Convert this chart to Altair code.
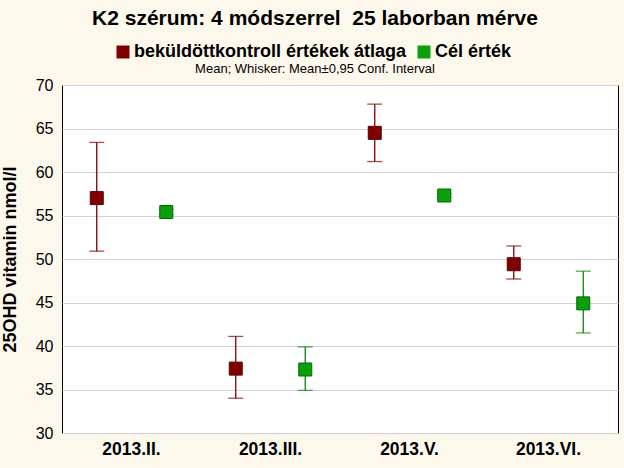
import altair as alt
import pandas as pd

categories = ["2013.II.", "2013.III.", "2013.V.", "2013.VI."]
series_names = ["beküldöttkontroll értékek átlaga", "Cél érték"]

red_mean = [57.0, 37.4, 64.5, 49.4]
red_low = [50.9, 34.0, 61.2, 47.7]
red_high = [63.4, 41.1, 67.8, 51.5]

green_mean = [55.4, 37.3, 57.3, 44.9]
green_low = [55.1, 34.9, 57.1, 41.5]
green_high = [55.7, 39.9, 57.5, 48.6]

y_ticks = [30, 35, 40, 45, 50, 55, 60, 65, 70]

rows = []
for i, c in enumerate(categories):
    rows.append({"cat": c, "series": series_names[0], "mean": red_mean[i], "low": red_low[i], "high": red_high[i]})
    rows.append({"cat": c, "series": series_names[1], "mean": green_mean[i], "low": green_low[i], "high": green_high[i]})
df = pd.DataFrame(rows)

FONT = "Liberation Sans"
fill_colors = ["#800000", "#0AA00A"]
stroke_colors = ["#5A0000", "#006A00"]
line_colors = ["#800000", "#0A840A"]

x_enc = alt.X("cat:N", sort=categories,
              scale=alt.Scale(paddingInner=0, paddingOuter=0),
              axis=alt.Axis(labelAngle=0, labelFontSize=17.5, labelFontWeight="bold",
                            labelColor="black", labelFont=FONT, ticks=False, domain=False,
                            labelPadding=7, title=None, grid=False))
xoff_enc = alt.XOffset("series:N", sort=series_names,
                       scale=alt.Scale(domain=series_names, paddingInner=0, paddingOuter=0))
y_scale = alt.Scale(domain=[30, 70], nice=False, zero=False)
y_axis = alt.Axis(values=y_ticks, grid=True, gridColor="#D2D2D2", domain=False, ticks=False,
                  labelFontSize=16, labelFont=FONT, labelColor="black", labelPadding=9,
                  title="25OHD vitamin nmol/l", titleFontSize=18, titleFontWeight="bold",
                  titleFont=FONT, titleColor="black", titlePadding=16)

legend = alt.Legend(orient="none", legendX=52, legendY=-42,
                    direction="horizontal", title=None,
                    labelFont=FONT, labelFontSize=18, labelFontWeight="bold",
                    labelColor="black", symbolType="square", symbolSize=169,
                    symbolStrokeWidth=0, symbolOpacity=1, labelOffset=2,
                    labelLimit=400, columnPadding=8, padding=0)

base = alt.Chart(df)

whiskers = base.mark_rule(strokeWidth=1.3).encode(
    x=x_enc, xOffset=xoff_enc,
    y=alt.Y("low:Q", scale=y_scale, axis=y_axis),
    y2="high:Q",
    stroke=alt.Stroke("series:N", scale=alt.Scale(domain=series_names, range=line_colors), legend=None),
)

caps_low = base.mark_tick(size=15, thickness=1.3).encode(
    x=x_enc, xOffset=xoff_enc,
    y=alt.Y("low:Q", scale=y_scale, axis=y_axis),
    fill=alt.Fill("series:N", scale=alt.Scale(domain=series_names, range=line_colors), legend=None),
)
caps_high = base.mark_tick(size=15, thickness=1.3).encode(
    x=x_enc, xOffset=xoff_enc,
    y=alt.Y("high:Q", scale=y_scale, axis=y_axis),
    fill=alt.Fill("series:N", scale=alt.Scale(domain=series_names, range=line_colors), legend=None),
)

points = base.mark_square(size=169, filled=True, opacity=1, strokeWidth=1).encode(
    x=x_enc, xOffset=xoff_enc,
    y=alt.Y("mean:Q", scale=y_scale, axis=y_axis),
    color=alt.Color("series:N", scale=alt.Scale(domain=series_names, range=fill_colors), legend=legend),
    stroke=alt.Stroke("series:N", scale=alt.Scale(domain=series_names, range=stroke_colors), legend=None),
)

chart = alt.layer(whiskers, caps_low, caps_high, points).resolve_scale(
    stroke="independent", fill="independent", color="independent"
).properties(
    width=556, height=348,
    padding={"left": 62, "top": 85, "right": 6, "bottom": 35},
    autosize=alt.AutoSizeParams(type="none"),
    background="#FDF8EC",
    title=alt.TitleParams(
        text="K2 szérum: 4 módszerrel\u00a0 25 laborban mérve",
        subtitle="Mean; Whisker: Mean±0,95 Conf. Interval",
        font=FONT, fontSize=21, fontWeight="bold", color="black",
        subtitleFont=FONT, subtitleFontSize=13, subtitleColor="black",
        subtitlePadding=34, anchor="middle", frame="group", dx=-25, offset=-33,
    ),
).configure_view(fill="white", stroke="black", strokeWidth=1)

chart.save("out.html", embed_options={"renderer": "svg", "actions": False})
